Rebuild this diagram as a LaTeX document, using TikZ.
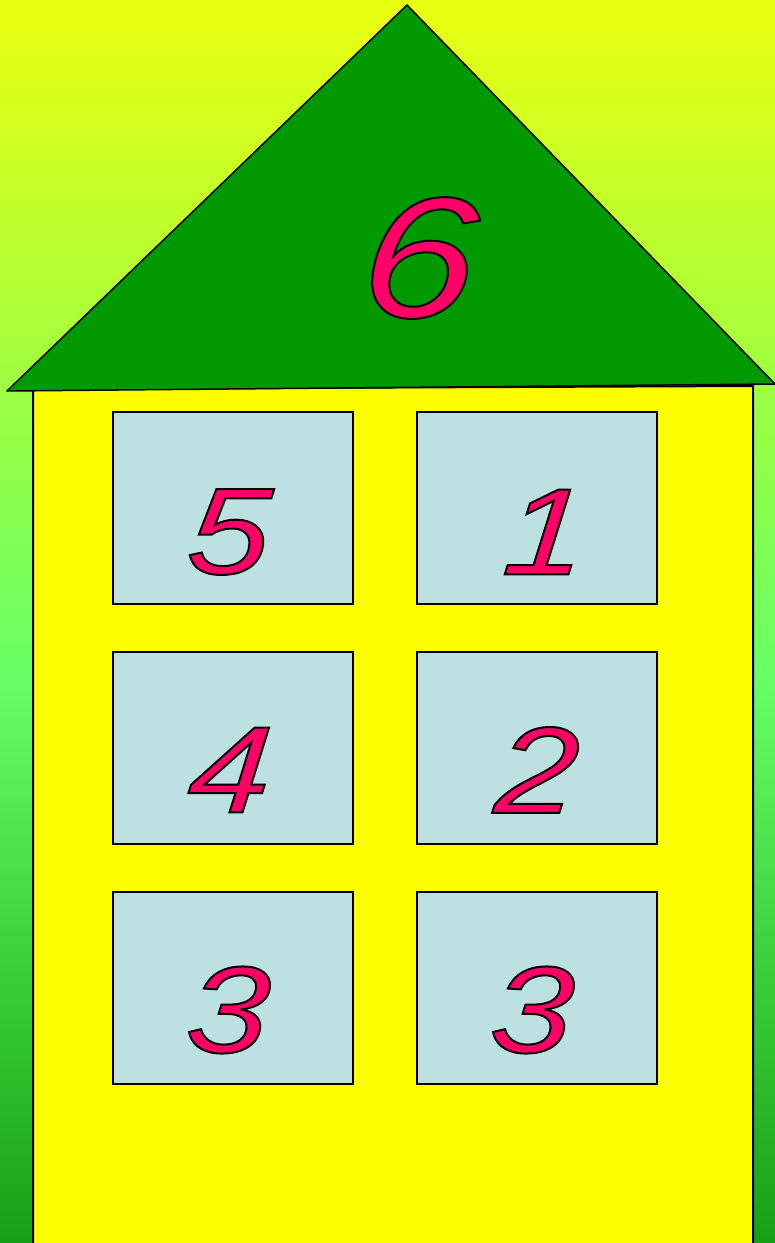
\documentclass[tikz,border=0pt]{standalone}
\usepackage{fontspec}
\newfontfamily\digitfont[FakeStretch=1.2,FakeSlant=0.08]{Liberation Sans}
\definecolor{bgA}{HTML}{EAFF10}
\definecolor{bgB}{HTML}{A0FF40}
\definecolor{bgC}{HTML}{66FF66}
\definecolor{bgD}{HTML}{14A014}
\definecolor{roofgreen}{HTML}{009900}
\definecolor{wallyellow}{HTML}{FFFF00}
\definecolor{winblue}{HTML}{BDE1E3}
\definecolor{digitpink}{HTML}{FF0066}
\newcommand{\outl}[1]{\special{pdf:literal direct 0 G 2 w 2 Tr}#1\special{pdf:literal direct 0 Tr}}
\begin{document}
\begin{tikzpicture}[x=1pt,y=-1pt,
  winbox/.style={draw=black,line width=1.5pt,fill=winblue,minimum width=240pt,minimum height=192pt,inner sep=0pt},
  bigdigit/.style={inner sep=0pt,text=digitpink,font=\digitfont\itshape\fontsize{172}{172}\selectfont},
  digit/.style={inner sep=0pt,text=digitpink,font=\digitfont\itshape\fontsize{123}{123}\selectfont}]
\useasboundingbox (0,0) rectangle (775,1243);
% background
\shade[top color=bgA,bottom color=bgB] (0,0) rectangle (775,380.5);
\shade[top color=bgB,bottom color=bgC] (0,380) rectangle (775,680.5);
\shade[top color=bgC,bottom color=bgD] (0,680) rectangle (775,1243);
% wall
\draw[fill=wallyellow,line width=2pt] (33,1250) -- (33,389) -- (753,386) -- (753,1250);
% roof
\coordinate (apex) at (407,5);
\coordinate (rl) at (7,391);
\coordinate (rr) at (775,384);
\draw[fill=roofgreen,line width=1.5pt,line join=round] (apex) -- (rl) -- (rr) -- cycle;
\node[bigdigit] (d6) at (415,258) {\outl{6}};
% windows
\node[winbox] (w1) at (233,508) {};
\node[winbox] (w2) at (537,508) {};
\node[winbox] (w3) at (233,748) {};
\node[winbox] (w4) at (537,748) {};
\node[winbox] (w5) at (233,988) {};
\node[winbox] (w6) at (537,988) {};
\node[digit] (d5) at (226,532) {\outl{5}};
\node[digit] (d1) at (542,532) {\outl{1}};
\node[digit] (d4) at (227,770) {\outl{4}};
\node[digit] (d2) at (534,770) {\outl{2}};
\node[digit] (d3a) at (225,1010) {\outl{3}};
\node[digit] (d3b) at (529,1010) {\outl{3}};
\end{tikzpicture}
\end{document}
